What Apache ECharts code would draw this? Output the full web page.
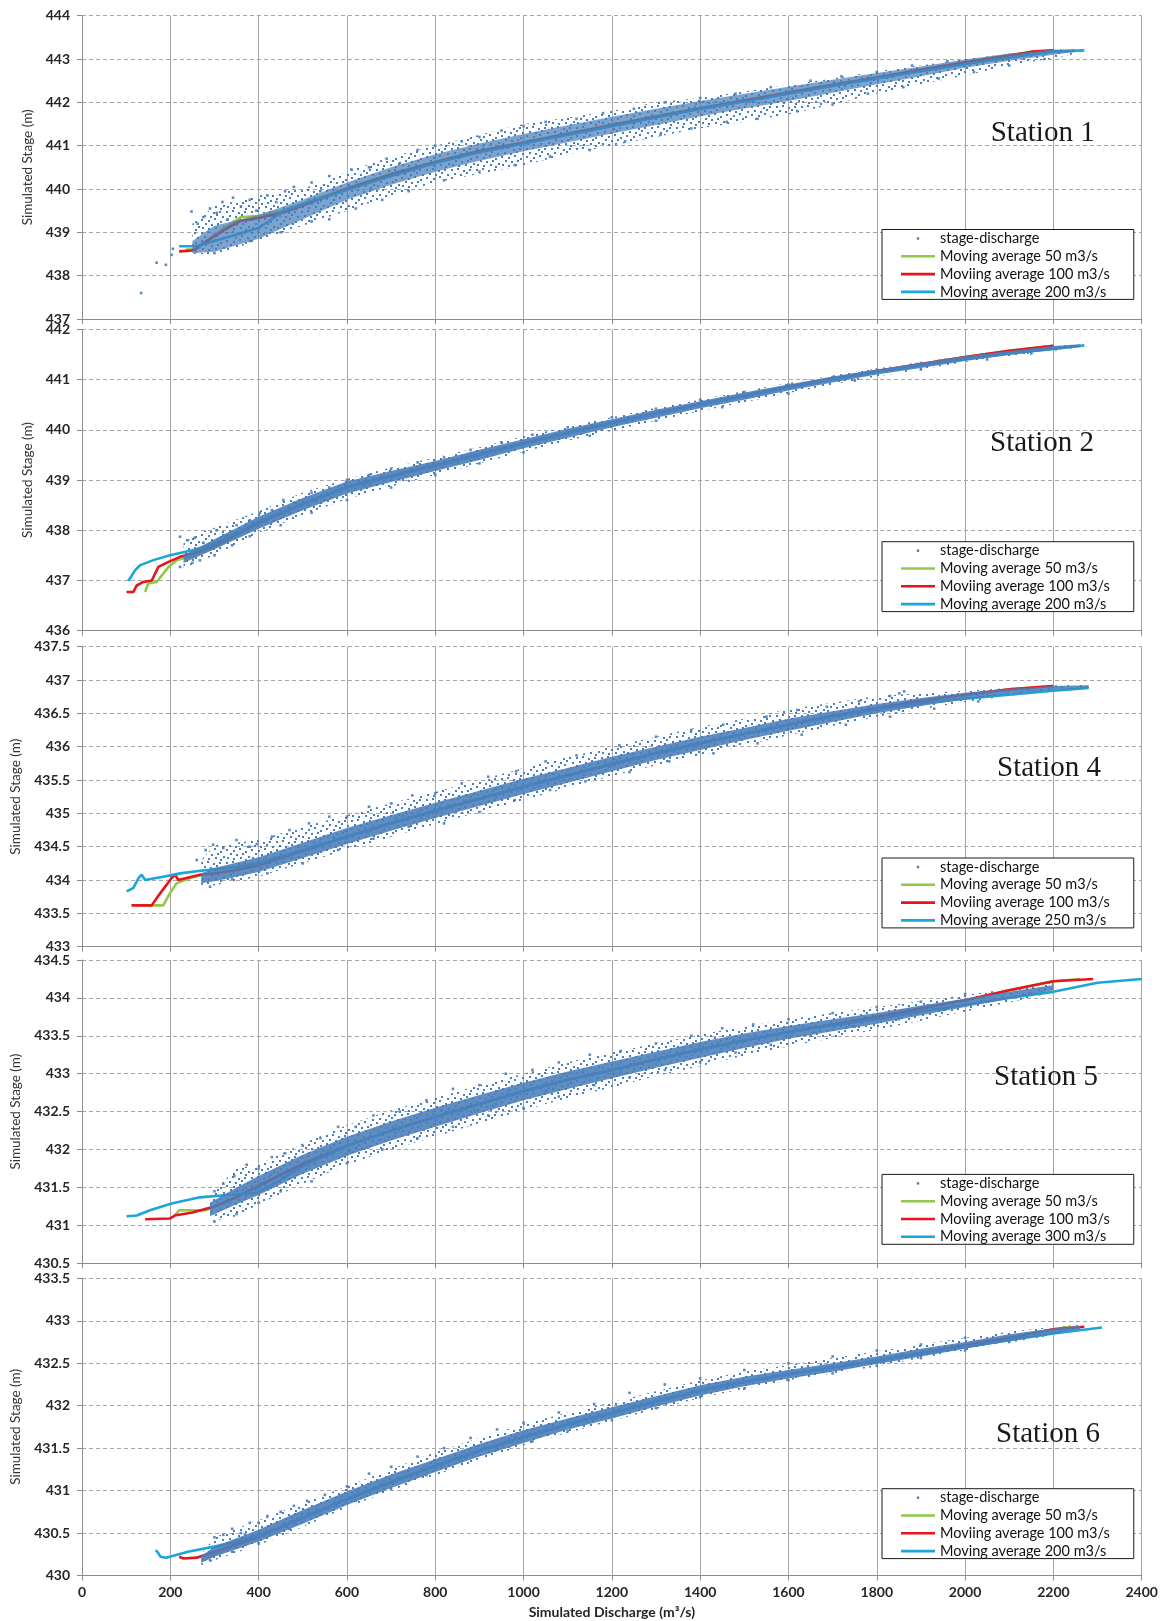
<!DOCTYPE html>
<html>
<head>
<meta charset="utf-8">
<script src="https://cdn.jsdelivr.net/npm/echarts@6/dist/echarts.min.js"></script>
<style>
  html, body { margin: 0; padding: 0; background: #ffffff; }
  #chart { width: 1162px; height: 1621px; }
</style>
</head>
<body>
<div id="chart"></div>
<script>
// ---------- axis ranges and labels ----------
const stationNames = ['Station 1', 'Station 2', 'Station 4', 'Station 5', 'Station 6'];
const yMin = [437, 436, 433, 430.5, 430];
const yMax = [444, 442, 437.5, 434.5, 433.5];
const yStep = [1, 1, 0.5, 0.5, 0.5];
const xMin = 0, xMax = 2400, xStep = 200;
const yTitle = 'Simulated Stage (m)';
const xTitle = 'Simulated Discharge (m\u00B3/s)';
const nameScatter = 'stage-discharge';
const nameMa50 = 'Moving average 50 m3/s';
const nameMa100 = 'Moviing average 100 m3/s';
const nameMaWide = ['Moving average 200 m3/s', 'Moving average 200 m3/s', 'Moving average 250 m3/s',
                    'Moving average 300 m3/s', 'Moving average 200 m3/s'];

// ---------- stage-discharge cloud: dense core and sparse fringe (discharge, stage) ----------
const bandQ1 = [250,300,400,500,600,700,800,900,1000,1100,1200,1300,1400,1500,1600,1700,1800,1900,2000,2100,2200,2250];
const fringeHi1 = [439.2,439.6,439.85,440.0,440.4,440.75,441.0,441.25,441.5,441.65,441.8,442.0,442.1,442.25,442.4,442.55,442.72,442.85,443.0,443.12,443.22,443.22];
const fringeLo1 = [438.5,438.5,438.8,439.15,439.5,439.85,440.15,440.35,440.55,440.8,441.0,441.2,441.4,441.55,441.72,441.95,442.2,442.42,442.62,442.85,443.02,443.12];
const coreHi1 = [438.8,439.15,439.4,439.75,440.15,440.5,440.8,441.05,441.27,441.47,441.67,441.85,442.03,442.2,442.36,442.52,442.68,442.83,442.99,443.12,443.22,443.22];
const coreLo1 = [438.52,438.55,438.85,439.3,439.75,440.1,440.4,440.65,440.87,441.08,441.28,441.48,441.68,441.86,442.03,442.22,442.42,442.6,442.8,442.96,443.1,443.16];

const bandQ2 = [230,300,400,500,600,700,800,900,1000,1100,1200,1300,1400,1500,1600,1700,1800,1900,2000,2100,2200,2260];
const fringeHi2 = [437.85,438.05,438.38,438.75,439.02,439.25,439.45,439.65,439.87,440.06,440.25,440.44,440.6,440.77,440.93,441.08,441.22,441.35,441.48,441.58,441.67,441.7];
const fringeLo2 = [437.25,437.5,437.95,438.3,438.62,438.87,439.1,439.33,439.56,439.78,439.98,440.18,440.37,440.55,440.73,440.9,441.06,441.2,441.35,441.47,441.57,441.64];
const coreHi2 = [437.5,437.82,438.27,438.64,438.97,439.18,439.38,439.6,439.81,440.02,440.21,440.4,440.57,440.74,440.9,441.06,441.2,441.33,441.47,441.57,441.67,441.7];
const coreLo2 = [437.35,437.62,438.03,438.4,438.73,438.96,439.18,439.4,439.63,439.84,440.05,440.24,440.43,440.6,440.78,440.94,441.1,441.23,441.37,441.49,441.59,441.65];

const bandQ3 = [270,300,400,500,600,700,800,900,1000,1100,1200,1300,1400,1500,1600,1700,1800,1900,2000,2100,2200,2280];
const fringeHi3 = [434.3,434.52,434.6,434.8,434.97,435.15,435.32,435.5,435.68,435.84,436.0,436.15,436.3,436.42,436.56,436.66,436.76,436.8,436.84,436.88,436.92,436.92];
const fringeLo3 = [433.9,433.92,434.05,434.25,434.45,434.65,434.84,435.02,435.2,435.38,435.56,435.72,435.87,436.02,436.17,436.31,436.45,436.56,436.67,436.76,436.83,436.87];
const coreHi3 = [434.1,434.18,434.34,434.56,434.78,434.97,435.16,435.34,435.52,435.68,435.85,436.0,436.15,436.28,436.42,436.53,436.64,436.73,436.81,436.87,436.91,436.92];
const coreLo3 = [433.95,433.98,434.12,434.33,434.54,434.74,434.93,435.11,435.29,435.46,435.63,435.8,435.95,436.1,436.24,436.37,436.5,436.61,436.71,436.79,436.85,436.88];

const bandQ4 = [290,350,400,500,600,700,800,900,1000,1100,1200,1300,1400,1500,1600,1700,1800,1900,2000,2100,2200];
const fringeHi4 = [431.4,431.75,431.8,432.08,432.32,432.52,432.68,432.85,433.0,433.15,433.28,433.4,433.52,433.62,433.72,433.8,433.88,433.96,434.04,434.12,434.2];
const fringeLo4 = [431.05,431.12,431.28,431.55,431.8,432.0,432.17,432.35,432.52,432.68,432.82,432.97,433.1,433.24,433.36,433.47,433.58,433.7,433.82,433.94,434.07];
const coreHi4 = [431.3,431.5,431.65,431.93,432.17,432.37,432.55,432.72,432.88,433.03,433.16,433.29,433.42,433.53,433.63,433.72,433.8,433.9,433.99,434.08,434.17];
const coreLo4 = [431.12,431.28,431.4,431.68,431.92,432.12,432.3,432.48,432.65,432.8,432.94,433.08,433.21,433.34,433.46,433.56,433.66,433.77,433.88,433.99,434.1];

const bandQ5 = [270,300,400,500,600,700,800,900,1000,1100,1200,1300,1400,1500,1600,1700,1800,1900,2000,2100,2200,2260];
const fringeHi5 = [430.25,430.45,430.65,430.85,431.05,431.25,431.45,431.62,431.78,431.92,432.04,432.17,432.3,432.4,432.48,432.56,432.64,432.72,432.8,432.87,432.93,432.95];
const fringeLo5 = [430.12,430.18,430.36,430.57,430.8,431.0,431.18,431.36,431.53,431.68,431.82,431.96,432.09,432.2,432.3,432.38,432.46,432.56,432.65,432.74,432.83,432.89];
const coreHi5 = [430.23,430.34,430.54,430.77,430.99,431.19,431.37,431.55,431.71,431.85,431.98,432.11,432.24,432.34,432.42,432.5,432.58,432.67,432.75,432.84,432.91,432.94];
const coreLo5 = [430.15,430.22,430.4,430.61,430.83,431.03,431.22,431.4,431.56,431.72,431.85,431.99,432.12,432.23,432.32,432.4,432.49,432.58,432.67,432.76,432.85,432.9];

// ---------- individual scattered stage-discharge points ----------
const dots1 = [[134,437.6],[169,438.3],[190,438.25],[203,438.48],[206,438.62],[248,439.48],[262,439.2],[275,439.35],[290,439.55],[305,439.45],[318,439.7],[330,439.3],[342,439.8],[360,439.6],[380,439.75],[395,439.5],[420,439.85],[440,439.7],[460,439.95],[480,440.05],[520,440.15],[540,439.95],[560,440.3],[610,440.45],[650,440.5],[690,440.7],[720,440.6],[760,440.9],[800,441.0],[860,441.1],[900,441.2],[950,441.35],[1000,441.45],[1050,441.55],[1120,441.62],[1180,441.75],[1250,441.85],[1320,442.0],[1400,442.1],[1480,442.2],[1560,442.35],[1650,442.5],[1720,442.6],[1800,442.7],[1880,442.85],[1960,442.95],
  [300,438.52],[380,438.8],[450,439.0],[520,439.25],[560,439.3],[620,439.55],[680,439.75],[740,439.95],[820,440.2],[900,440.4],[980,440.55],[1060,440.75],[1150,440.9],[1230,441.1],[1310,441.25],[1380,441.4],[1460,441.55],[1530,441.62],[1620,441.8],[1700,441.95],[1780,442.2],[1860,442.35],[1940,442.55],[2020,442.7],[2100,442.85],[2180,443.0]];
const dots2 = [[222,437.87],[240,437.8],[255,437.85],[275,437.75],[305,438.0],[320,437.9],[350,438.1],[380,438.2],[403,438.35],[430,438.4],[456,438.6],[480,438.55],[520,438.75],[560,438.85],[600,439.0],[650,439.1],[700,439.22],[760,439.35],[820,439.45],[880,439.6],[950,439.75],[1020,439.9],[1100,440.05],[1200,440.25],[1300,440.42],[1400,440.6],[1500,440.75],[1600,440.9],[1700,441.05],[1800,441.2],[1900,441.33],
  [222,437.27],[250,437.35],[267,437.4],[300,437.5],[340,437.7],[380,437.88],[450,438.1],[520,438.35],[600,438.6],[700,438.85],[800,439.1],[900,439.33],[1000,439.55],[1150,439.88],[1300,440.18],[1450,440.45],[1600,440.72],[1750,440.98],[1900,441.2],[2050,441.4],[2150,441.52]];
const dots3 = [[260,434.3],[280,434.45],[297,434.53],[320,434.48],[350,434.6],[380,434.5],[396,434.54],[430,434.65],[470,434.75],[514,434.85],[560,434.95],[600,434.95],[650,435.1],[700,435.15],[748,435.27],[800,435.3],[860,435.45],[920,435.55],[983,435.63],[1050,435.78],[1120,435.87],[1217,436.02],[1300,436.15],[1380,436.25],[1452,436.33],[1550,436.45],[1620,436.55],[1687,436.6],[1760,436.68],[1830,436.76],[1851,436.8],[1862,436.83],
  [290,433.9],[340,434.02],[420,434.1],[500,434.25],[580,434.45],[660,434.62],[740,434.8],[820,434.85],[900,435.02],[980,435.2],[1060,435.35],[1140,435.48],[1240,435.62],[1330,435.78],[1430,435.9],[1530,436.05],[1630,436.18],[1730,436.33],[1830,436.45],[1930,436.57],[2030,436.68]];
const dots4 = [[300,431.45],[320,431.55],[345,431.65],[373,431.8],[400,431.75],[430,431.9],[460,431.95],[500,432.05],[540,432.15],[580,432.3],[620,432.3],[660,432.45],[720,432.5],[780,432.65],[840,432.8],[900,432.85],[960,433.0],[1020,433.05],[1080,433.15],[1150,433.25],[1220,433.3],[1300,433.4],[1380,433.5],[1450,433.6],[1520,433.65],[1600,433.72],[1700,433.8],[1800,433.88],[1900,433.95],[2000,434.05],
  [300,431.05],[350,431.15],[400,431.3],[450,431.45],[520,431.58],[600,431.82],[680,432.0],[760,432.15],[840,432.3],[920,432.45],[1000,432.55],[1080,432.7],[1160,432.85],[1240,432.95],[1320,433.05],[1400,433.15],[1480,433.28],[1560,433.38],[1650,433.5],[1750,433.62],[1850,433.72],[1950,433.85],[2050,433.95],[2150,434.05]];
const dots5 = [[300,430.45],[320,430.48],[340,430.55],[360,430.5],[380,430.62],[400,430.62],[420,430.7],[450,430.75],[480,430.82],[510,430.88],[550,430.95],[600,431.05],[650,431.2],[700,431.28],[760,431.4],[820,431.5],[880,431.62],[940,431.72],[1000,431.8],[1080,431.92],[1160,432.02],[1240,432.15],[1320,432.25],[1400,432.32],[1500,432.42],[1600,432.5],[1700,432.58],[1800,432.65],[1900,432.72],[2000,432.8],
  [290,430.18],[340,430.28],[400,430.38],[470,430.55],[540,430.72],[620,430.88],[700,431.02],[780,431.18],[860,431.35],[940,431.48],[1020,431.58],[1100,431.7],[1200,431.83],[1300,431.97],[1400,432.1],[1500,432.2],[1600,432.3],[1700,432.38],[1800,432.47],[1900,432.56],[2000,432.65],[2100,432.75]];

// ---------- moving-average rating curves (discharge, stage) ----------
const ma50_1 = [[235,438.6],[260,438.62],[290,438.86],[330,439.15],[360,439.35],[400,439.38],[455,439.5],[500,439.66],[600,440.02],[700,440.35],[800,440.63],[900,440.88],[1000,441.08],[1100,441.28],[1200,441.48],[1300,441.68],[1400,441.87],[1500,442.05],[1600,442.23],[1700,442.41],[1800,442.58],[1900,442.76],[2000,442.93],[2100,443.1],[2200,443.2]];
const ma100_1 = [[220,438.56],[250,438.58],[280,438.78],[330,439.1],[358,439.26],[400,439.33],[455,439.45],[500,439.62],[600,440.0],[700,440.33],[800,440.62],[900,440.87],[1000,441.07],[1100,441.27],[1200,441.47],[1300,441.67],[1400,441.86],[1500,442.04],[1600,442.22],[1700,442.4],[1800,442.57],[1900,442.75],[2000,442.92],[2100,443.08],[2150,443.17],[2200,443.2]];
const maW_1 = [[220,438.68],[260,438.68],[300,438.8],[360,438.98],[400,439.1],[455,439.48],[500,439.65],[600,439.98],[700,440.3],[800,440.6],[900,440.85],[1000,441.05],[1100,441.25],[1200,441.45],[1300,441.65],[1400,441.85],[1500,442.02],[1600,442.2],[1700,442.38],[1800,442.55],[1900,442.72],[2000,442.88],[2100,443.03],[2200,443.17],[2270,443.2]];

const ma50_2 = [[143,436.77],[150,436.94],[169,436.97],[196,437.27],[214,437.4],[252,437.5],[290,437.62],[330,437.8],[400,438.14],[500,438.52],[600,438.86],[700,439.08],[800,439.3],[900,439.51],[1000,439.73],[1100,439.94],[1200,440.14],[1300,440.33],[1400,440.51],[1500,440.68],[1600,440.86],[1700,441.02],[1800,441.17],[1900,441.31],[2000,441.45],[2100,441.57],[2200,441.67]];
const ma100_2 = [[101,436.77],[116,436.77],[124,436.9],[139,436.97],[158,437.0],[173,437.27],[196,437.37],[222,437.47],[252,437.54],[286,437.64],[320,437.78],[400,438.15],[500,438.52],[600,438.86],[700,439.08],[800,439.29],[900,439.51],[1000,439.73],[1100,439.94],[1200,440.14],[1300,440.33],[1400,440.51],[1500,440.68],[1600,440.86],[1700,441.02],[1800,441.17],[1900,441.31],[2000,441.45],[2100,441.57],[2200,441.67]];
const maW_2 = [[105,436.99],[120,437.2],[131,437.3],[160,437.4],[199,437.5],[250,437.6],[290,437.7],[350,437.95],[400,438.17],[500,438.53],[600,438.85],[700,439.07],[800,439.28],[900,439.5],[1000,439.72],[1100,439.93],[1200,440.13],[1300,440.32],[1400,440.5],[1500,440.67],[1600,440.84],[1700,441.0],[1800,441.15],[1900,441.28],[2000,441.41],[2100,441.52],[2200,441.61],[2270,441.68]];

const ma50_3 = [[124,433.62],[184,433.62],[199,433.8],[214,433.95],[245,434.03],[275,434.08],[300,434.1],[400,434.22],[500,434.44],[600,434.65],[700,434.85],[800,435.04],[900,435.22],[1000,435.4],[1100,435.57],[1200,435.74],[1300,435.9],[1400,436.05],[1500,436.19],[1600,436.33],[1700,436.46],[1800,436.58],[1900,436.69],[2000,436.78],[2100,436.86],[2200,436.91]];
const ma100_3 = [[112,433.62],[158,433.62],[177,433.8],[203,434.03],[211,434.08],[218,434.0],[267,434.08],[300,434.1],[350,434.15],[400,434.22],[500,434.44],[600,434.65],[700,434.85],[800,435.04],[900,435.22],[1000,435.4],[1100,435.57],[1200,435.74],[1300,435.9],[1400,436.05],[1500,436.19],[1600,436.33],[1700,436.46],[1800,436.58],[1900,436.69],[2000,436.78],[2100,436.86],[2200,436.91]];
const maW_3 = [[101,433.83],[116,433.88],[128,434.03],[135,434.08],[143,434.0],[184,434.05],[222,434.1],[282,434.15],[350,434.2],[400,434.25],[500,434.45],[600,434.65],[700,434.85],[800,435.04],[900,435.22],[1000,435.4],[1100,435.57],[1200,435.74],[1300,435.9],[1400,436.05],[1500,436.19],[1600,436.33],[1700,436.45],[1800,436.56],[1900,436.65],[2000,436.72],[2100,436.78],[2200,436.84],[2280,436.88]];

const ma50_4 = [[210,431.13],[220,431.2],[244,431.2],[280,431.2],[300,431.25],[350,431.38],[400,431.52],[500,431.81],[600,432.05],[700,432.25],[800,432.43],[900,432.6],[1000,432.77],[1100,432.92],[1200,433.05],[1300,433.19],[1400,433.32],[1500,433.44],[1600,433.55],[1700,433.65],[1800,433.75],[1900,433.86],[2000,433.97],[2100,434.1],[2200,434.22],[2260,434.25]];
const ma100_4 = [[143,431.08],[199,431.09],[210,431.13],[250,431.17],[300,431.25],[350,431.37],[400,431.52],[500,431.81],[600,432.05],[700,432.25],[800,432.43],[900,432.6],[1000,432.77],[1100,432.92],[1200,433.05],[1300,433.19],[1400,433.32],[1500,433.44],[1600,433.55],[1700,433.65],[1800,433.75],[1900,433.86],[2000,433.97],[2100,434.1],[2200,434.22],[2290,434.25]];
const maW_4 = [[101,431.12],[124,431.13],[154,431.2],[203,431.29],[267,431.37],[330,431.4],[396,431.43],[450,431.6],[500,431.78],[600,432.05],[700,432.25],[800,432.43],[900,432.6],[1000,432.77],[1100,432.92],[1200,433.05],[1300,433.19],[1400,433.32],[1500,433.44],[1600,433.55],[1700,433.64],[1800,433.72],[1900,433.82],[2000,433.91],[2100,434.0],[2200,434.08],[2300,434.2],[2400,434.25]];

const ma50_5 = [[270,430.18],[300,430.25],[330,430.32],[400,430.46],[500,430.68],[600,430.9],[700,431.1],[800,431.29],[900,431.47],[1000,431.63],[1100,431.78],[1200,431.91],[1300,432.05],[1400,432.18],[1500,432.28],[1600,432.37],[1700,432.45],[1800,432.53],[1900,432.62],[2000,432.71],[2100,432.8],[2200,432.9],[2240,432.93]];
const ma100_5 = [[220,430.22],[230,430.2],[260,430.21],[300,430.28],[330,430.33],[380,430.42],[400,430.46],[500,430.68],[600,430.9],[700,431.1],[800,431.29],[900,431.47],[1000,431.63],[1100,431.78],[1200,431.91],[1300,432.05],[1400,432.18],[1500,432.28],[1600,432.37],[1700,432.45],[1800,432.53],[1900,432.62],[2000,432.71],[2100,432.8],[2200,432.9],[2270,432.93]];
const maW_5 = [[167,430.3],[172,430.27],[178,430.22],[190,430.21],[205,430.23],[240,430.28],[300,430.34],[350,430.4],[400,430.47],[500,430.68],[600,430.9],[700,431.1],[800,431.29],[900,431.47],[1000,431.63],[1100,431.78],[1200,431.91],[1300,432.05],[1400,432.18],[1500,432.28],[1600,432.37],[1700,432.45],[1800,432.53],[1900,432.61],[2000,432.69],[2100,432.77],[2200,432.85],[2310,432.92]];

// ---------- grouping per panel ----------
const bandQ = [bandQ1, bandQ2, bandQ3, bandQ4, bandQ5];
const fringeHi = [fringeHi1, fringeHi2, fringeHi3, fringeHi4, fringeHi5];
const fringeLo = [fringeLo1, fringeLo2, fringeLo3, fringeLo4, fringeLo5];
const coreHi = [coreHi1, coreHi2, coreHi3, coreHi4, coreHi5];
const coreLo = [coreLo1, coreLo2, coreLo3, coreLo4, coreLo5];
const dots = [dots1, dots2, dots3, dots4, dots5];
const ma50 = [ma50_1, ma50_2, ma50_3, ma50_4, ma50_5];
const ma100 = [ma100_1, ma100_2, ma100_3, ma100_4, ma100_5];
const maW = [maW_1, maW_2, maW_3, maW_4, maW_5];

// ---------- layout (pixels) and styling ----------
const gridTop = [15.7, 329.3, 646.7, 960, 1278.3];
const gridHeight = [303.3, 301.4, 300, 303.3, 297.2];
const yNameGap = [47, 47, 59, 59, 59];
const legendTop = [229.5, 541.7, 858, 1174.4, 1488.7];
const stationPos = [[1042.7, 133.3], [1042, 443.5], [1049, 768], [1046, 1077], [1048, 1434]];
const coreOpacity = [0.72, 0.9, 0.88, 0.88, 0.9];

const COL_PTS = '#4a7ebb';
const COL_G = '#92c84a';
const COL_R = '#e8141c';
const COL_B = '#1ba6da';
const AXIS_COL = '#8c8c8c';
const GRID_COL = '#a6a6a6';
const FONT = 'Lato, "Open Sans", sans-serif';

// small repeating tile of marker specks used to fill the sparse fringe of the cloud
const speckXY = [[1,1],[7,0],[13,2],[19,1],[4,5],[10,6],[16,4],[22,6],[1,9],[8,10],[14,8],[20,11],
                 [5,13],[11,14],[17,13],[23,16],[2,17],[8,18],[15,17],[20,19]];
function speckTile() {
  const c = document.createElement('canvas');
  c.width = 25; c.height = 21;
  const g = c.getContext('2d');
  g.fillStyle = COL_PTS;
  speckXY.forEach(p => g.fillRect(p[0], p[1], 2, 2));
  return c;
}
const fringeFill = { image: speckTile(), repeat: 'repeat' };

// closed outline: upper edge left to right, lower edge right to left
function outline(q, hi, lo) {
  const pts = q.map((x, k) => [x, hi[k]]);
  for (let k = q.length - 1; k >= 0; k--) pts.push([q[k], lo[k]]);
  return pts;
}

function cloudSeries(idx, pts, fill, opacity, z) {
  return {
    type: 'custom', name: nameScatter, xAxisIndex: idx, yAxisIndex: idx, z: z,
    silent: true, animation: false, data: pts,
    renderItem: function (params, api) {
      if (params.dataIndex !== 0) return null;
      return {
        type: 'polygon',
        shape: { points: pts.map(p => api.coord(p)) },
        style: { fill: fill, opacity: opacity }
      };
    }
  };
}

function lineSeries(idx, name, data, color, z) {
  return {
    type: 'line', name: name, xAxisIndex: idx, yAxisIndex: idx, z: z,
    data: data, symbol: 'none', showSymbol: false, silent: true,
    lineStyle: { color: color, width: 2.6 }, itemStyle: { color: color }
  };
}

const dotIcon = 'path://M0,0M34,14M15.8,5.8h2.4v2.4h-2.4z';
const lineIcon = 'path://M0,0M34,14M0,5.7h34v2.6h-34z';

const grids = [], xAxes = [], yAxes = [], series = [], legends = [], graphics = [];

for (let i = 0; i < 5; i++) {
  grids.push({ left: 82, right: 20.3, top: gridTop[i], height: gridHeight[i],
               containLabel: false, outerBoundsMode: 'none' });

  xAxes.push({
    type: 'value', gridIndex: i, min: xMin, max: xMax, interval: xStep,
    axisLine: { show: true, onZero: false, lineStyle: { color: AXIS_COL, width: 1 } },
    axisTick: { show: true, length: 5, lineStyle: { color: AXIS_COL } },
    axisLabel: { show: i === 4, margin: 10, fontFamily: FONT, fontWeight: 'bold', fontSize: 14, color: '#262626',
                 formatter: v => String(v) },
    splitLine: { show: true, lineStyle: { color: GRID_COL, width: 1, type: 'solid' } },
    name: i === 4 ? xTitle : '',
    nameLocation: 'middle', nameGap: 30,
    nameTextStyle: { fontFamily: FONT, fontWeight: 'bold', fontSize: 14, color: '#262626' }
  });

  yAxes.push({
    type: 'value', gridIndex: i, min: yMin[i], max: yMax[i], interval: yStep[i],
    axisLine: { show: true, onZero: false, lineStyle: { color: AXIS_COL, width: 1 } },
    axisTick: { show: true, length: 5, lineStyle: { color: AXIS_COL } },
    axisLabel: { margin: 12, fontFamily: FONT, fontWeight: 'bold', fontSize: 14, color: '#262626',
                 showMinLabel: true, showMaxLabel: true, formatter: v => String(v) },
    splitLine: { show: true, lineStyle: { color: GRID_COL, width: 1, type: [4, 3] } },
    name: yTitle, nameLocation: 'middle', nameGap: yNameGap[i],
    nameTextStyle: { fontFamily: FONT, fontSize: 13.5, color: '#333333' }
  });

  series.push(cloudSeries(i, outline(bandQ[i], fringeHi[i], fringeLo[i]), fringeFill, 1, 2));
  series.push(lineSeries(i, nameMa50, ma50[i], COL_G, 3));
  series.push(lineSeries(i, nameMa100, ma100[i], COL_R, 4));
  series.push(lineSeries(i, nameMaWide[i], maW[i], COL_B, 5));
  series.push(cloudSeries(i, outline(bandQ[i], coreHi[i], coreLo[i]), COL_PTS, coreOpacity[i], 6));
  series.push({
    type: 'scatter', name: nameScatter, xAxisIndex: i, yAxisIndex: i, z: 7,
    data: dots[i], symbol: 'rect', symbolSize: 2.6, silent: true,
    itemStyle: { color: COL_PTS, opacity: 0.9 }
  });

  legends.push({
    orient: 'vertical', left: 882, top: legendTop[i],
    padding: [1.5, 24, 0, 19], itemGap: 2.8, itemWidth: 34, itemHeight: 14,
    borderColor: '#1a1a1a', borderWidth: 1, borderRadius: 0, backgroundColor: '#ffffff',
    selectedMode: false, z: 20,
    textStyle: { fontFamily: FONT, fontSize: 14.5, color: '#111111', lineHeight: 14 },
    data: [
      { name: nameScatter, icon: dotIcon, itemStyle: { color: COL_PTS, opacity: 1 } },
      { name: nameMa50, icon: lineIcon, itemStyle: { color: COL_G } },
      { name: nameMa100, icon: lineIcon, itemStyle: { color: COL_R } },
      { name: nameMaWide[i], icon: lineIcon, itemStyle: { color: COL_B } }
    ]
  });

  graphics.push({
    type: 'text', x: stationPos[i][0], y: stationPos[i][1], z: 30, silent: true,
    style: { text: stationNames[i], fontFamily: '"Liberation Serif", "DejaVu Serif", serif',
             fontSize: 29, fill: '#1a1a1a', align: 'center', verticalAlign: 'middle' }
  });
}

const chart = echarts.init(document.getElementById('chart'), null, { renderer: 'canvas' });
chart.setOption({
  animation: false,
  backgroundColor: '#ffffff',
  grid: grids,
  xAxis: xAxes,
  yAxis: yAxes,
  legend: legends,
  graphic: graphics,
  series: series
});
</script>
</body>
</html>
